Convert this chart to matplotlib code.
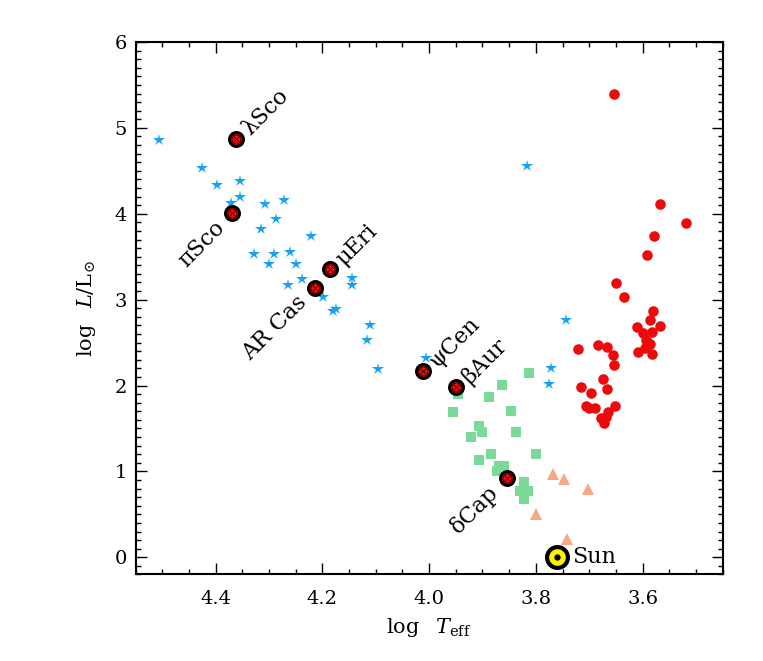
import matplotlib
matplotlib.use("Agg")
import matplotlib.pyplot as plt
from matplotlib.ticker import MultipleLocator

plt.rcParams['font.family'] = ['DejaVu Serif', 'DejaVu Sans']
plt.rcParams['mathtext.fontset'] = 'dejavuserif'

# hot stars (blue stars)
star_t = [4.506, 4.425, 4.397, 4.355, 4.355, 4.372, 4.307, 4.271, 4.286, 4.314,
          4.222, 4.328, 4.291, 4.261, 4.299, 4.249, 4.239, 4.265, 4.199, 4.144,
          4.144, 4.180, 4.175, 4.110, 4.117, 4.096, 4.005, 3.817, 3.743, 3.772,
          3.775]
star_l = [4.864, 4.530, 4.337, 4.376, 4.193, 4.128, 4.116, 4.163, 3.934, 3.817,
          3.736, 3.535, 3.535, 3.553, 3.419, 3.410, 3.236, 3.166, 3.030, 3.251,
          3.166, 2.864, 2.895, 2.709, 2.527, 2.198, 2.326, 4.554, 2.759, 2.205,
          2.015]

# intermediate stars (green squares)
sq_t = [3.813, 3.863, 3.887, 3.956, 3.846, 3.907, 3.900, 3.922, 3.838, 3.800,
        3.885, 3.907, 3.870, 3.860, 3.872, 3.822, 3.822, 3.830, 3.814, 3.822,
        3.945]
sq_l = [2.147, 2.003, 1.868, 1.693, 1.701, 1.527, 1.461, 1.402, 1.457, 1.205,
        1.201, 1.135, 1.065, 1.065, 1.007, 0.879, 0.821, 0.771, 0.771, 0.678,
        1.907]

# cool dwarfs (orange triangles)
tri_t = [3.768, 3.747, 3.702, 3.800, 3.741]
tri_l = [0.965, 0.910, 0.794, 0.500, 0.209]

# giants (red circles)
red_t = [3.654, 3.568, 3.518, 3.578, 3.592, 3.649, 3.634, 3.581, 3.586, 3.611,
         3.568, 3.599, 3.583, 3.593, 3.586, 3.596, 3.608, 3.582, 3.722, 3.684,
         3.667, 3.655, 3.654, 3.675, 3.716, 3.696, 3.667, 3.652, 3.707, 3.701,
         3.689, 3.664, 3.678, 3.669, 3.673]
red_l = [5.395, 4.116, 3.895, 3.740, 3.523, 3.198, 3.027, 2.868, 2.759, 2.682,
         2.690, 2.612, 2.624, 2.535, 2.480, 2.442, 2.387, 2.367, 2.422, 2.477,
         2.453, 2.360, 2.240, 2.073, 1.988, 1.914, 1.965, 1.756, 1.759, 1.736,
         1.733, 1.686, 1.623, 1.635, 1.558]

# named stars
names = ['λSco', 'πSco', 'μEri', 'AR Cas', 'ψCen', 'βAur', 'δCap']
name_t = [4.361, 4.369, 4.186, 4.214, 4.011, 3.950, 3.855]
name_l = [4.872, 4.007, 3.352, 3.140, 2.170, 1.977, 0.926]
name_side = ['up', 'down', 'up', 'down', 'up', 'up', 'down']

sun_t = 3.761
sun_l = 0.0

fig = plt.figure(figsize=(7.63, 6.61), dpi=100)
ax = fig.add_axes([0.1776, 0.1309, 0.7696, 0.8056])

ax.plot(star_t, star_l, '*', color='#18A0F2', ms=9, mew=0, ls='none')
ax.plot(sq_t, sq_l, 's', color='#7ADB98', ms=6.5, mew=0, ls='none')
ax.plot(tri_t, tri_l, '^', color='#F6A985', ms=8, mew=0, ls='none')
ax.plot(red_t, red_l, 'o', color='#EE0A0A', ms=7.6, mew=0, ls='none')

# named stars: black ring, red fill, circled cross
ax.plot(name_t, name_l, 'o', mfc='#EE1111', mec='black', mew=2.2, ms=10, ls='none')
ax.plot(name_t, name_l, 'o', mfc='none', mec='black', mew=0.5, ms=6.5, ls='none')
ax.plot(name_t, name_l, 'x', color='black', mew=0.5, ms=4.2, ls='none')

for n, t, l, s in zip(names, name_t, name_l, name_side):
    if s == 'up':
        ax.annotate(n, (t, l), xytext=(7, 5), textcoords='offset points',
                    ha='left', va='center', rotation=45, rotation_mode='anchor',
                    fontsize=16)
    else:
        ax.annotate(n, (t, l), xytext=(-8, -8), textcoords='offset points',
                    ha='right', va='center', rotation=45, rotation_mode='anchor',
                    fontsize=16)

ax.plot([sun_t], [sun_l], 'o', mfc='#FFF200', mec='black', mew=3, ms=15)
ax.plot([sun_t], [sun_l], 'o', color='black', ms=3.5)
ax.annotate('Sun', (sun_t, sun_l), xytext=(11, 0), textcoords='offset points',
            ha='left', va='center', fontsize=16)

ax.set_xlim(4.55, 3.45)
ax.set_ylim(-0.2, 6.0)
ax.xaxis.set_minor_locator(MultipleLocator(0.05))
ax.yaxis.set_major_locator(MultipleLocator(1))
ax.yaxis.set_minor_locator(MultipleLocator(0.1))
ax.set_xticks([4.4, 4.2, 4.0, 3.8, 3.6])
ax.set_xticklabels(['4.4', '4.2', '4.0', '3.8', '3.6'])
ax.tick_params(which='both', direction='in', top=True, right=True, labelsize=14)
ax.tick_params(which='major', length=8, width=1)
ax.tick_params(which='minor', length=3.6, width=1)
ax.tick_params(axis='x', pad=11)
ax.tick_params(axis='y', pad=6)
for sp in ax.spines.values():
    sp.set_linewidth(1.5)

ax.set_xlabel(r'$\log\ \ T_{\rm eff}$', fontsize=15, labelpad=6)
ax.set_ylabel(r'$\log\ \ L/\mathrm{L}_{\odot}$', fontsize=15, labelpad=12)

fig.savefig('out.png', dpi=100)
